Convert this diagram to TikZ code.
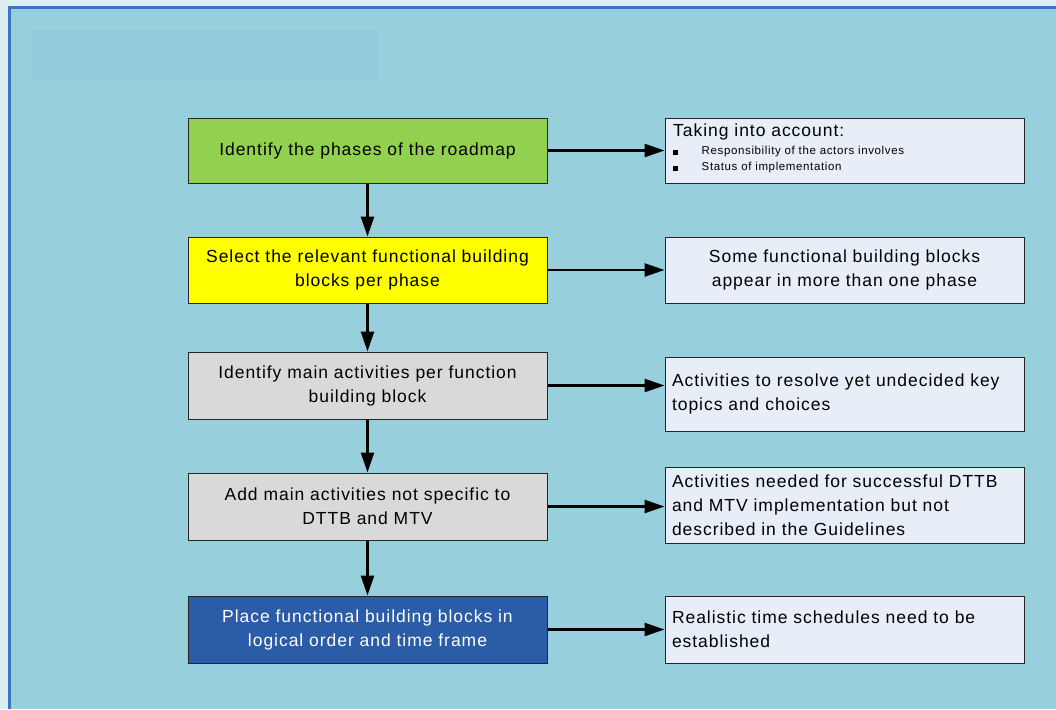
\documentclass[tikz,border=0pt]{standalone}
\usepackage{fontspec}
\setmainfont[LetterSpace=5.5]{Liberation Sans}
\usetikzlibrary{arrows.meta}
\definecolor{pagebg}{HTML}{DDEEF3}
\definecolor{panel}{HTML}{97CFDC}
\definecolor{panelframe}{HTML}{3A75C4}
\definecolor{titlebar}{HTML}{91CAD9}
\definecolor{cgreen}{HTML}{92D050}
\definecolor{cyellow}{HTML}{FFFF00}
\definecolor{cgray}{HTML}{D9D9D9}
\definecolor{cblue}{HTML}{2A5CA8}
\definecolor{notefill}{HTML}{E7EEF8}
\tikzset{
  stepbox/.style={draw=black!85, line width=1pt, minimum width=359pt, align=center, font=\fontsize{17.5}{24}\selectfont, inner sep=0pt},
  notebox/.style={draw=black!85, line width=1pt, fill=notefill, minimum width=359pt, font=\fontsize{17.5}{24}\selectfont, inner sep=0pt},
  flow/.style={line width=2.5pt, -{Triangle[length=20pt,width=13pt]}},
}
\begin{document}
\begin{tikzpicture}[x=1pt,y=-1pt]
\useasboundingbox (0,0) rectangle (1056,709);
\fill[pagebg] (0,0) rectangle (1056,709);
\fill[panel] (8,6) rectangle (1056,709);
\draw[panelframe, line width=2.5pt] (9.5,709) -- (9.5,7.5) -- (1056,7.5);
\fill[titlebar] (32,30) rectangle (377,80);
% left steps
\node[stepbox, fill=cgreen, minimum height=65pt] (s1) at (367.5,150.5) {Identify the phases of the roadmap};
\node[stepbox, fill=cyellow, minimum height=66pt] (s2) at (367.5,270) {Select the relevant functional building\\blocks per phase};
\node[stepbox, fill=cgray, minimum height=67pt] (s3) at (367.5,385.5) {Identify main activities per function\\building block};
\node[stepbox, fill=cgray, minimum height=67pt] (s4) at (367.5,506.5) {Add main activities not specific to\\DTTB and MTV};
\node[stepbox, fill=cblue, text=white, minimum height=67pt] (s5) at (367.5,629.5) {Place functional building blocks in\\logical order and time frame};
% right notes
\node[notebox, minimum height=65pt] (n1) at (844.5,150.5) {};
\node[anchor=north west, inner sep=0pt, font=\fontsize{17.5}{20}\selectfont] (n1t) at (673,124) {Taking into account:};
\node[anchor=north west, inner sep=0pt, font=\fontsize{11.5}{16}\selectfont, align=left] (n1b) at (673,146) {\rule{4.5pt}{4.5pt}\hspace{24pt}Responsibility of the actors involves\\\rule{4.5pt}{4.5pt}\hspace{24pt}Status of implementation};
\node[notebox, minimum height=66pt, align=center] (n2) at (844.5,270) {Some functional building blocks\\appear in more than one phase};
\node[notebox, minimum height=74pt, text width=345pt, align=left] (n3) at (844.5,394) {Activities to resolve yet undecided key\\topics and choices};
\node[notebox, minimum height=76pt, text width=345pt, align=left] (n4) at (844.5,505) {Activities needed for successful DTTB\\and MTV implementation but not\\described in the Guidelines};
\node[notebox, minimum height=67pt, text width=345pt, align=left] (n5) at (844.5,629.5) {Realistic time schedules need to be\\established};
% vertical connectors
\draw[flow] (s1.south) -- (s2.north);
\draw[flow] (s2.south) -- (s3.north);
\draw[flow] (s3.south) -- (s4.north);
\draw[flow] (s4.south) -- (s5.north);
% horizontal connectors
\draw[flow] (s1.east) -- (n1.west);
\draw[flow] (s2.east) -- (n2.west);
\draw[flow] (s3.east) -- (s3.east -| n3.west);
\draw[flow] (s4.east) -- (s4.east -| n4.west);
\draw[flow] (s5.east) -- (n5.west);
\end{tikzpicture}
\end{document}
